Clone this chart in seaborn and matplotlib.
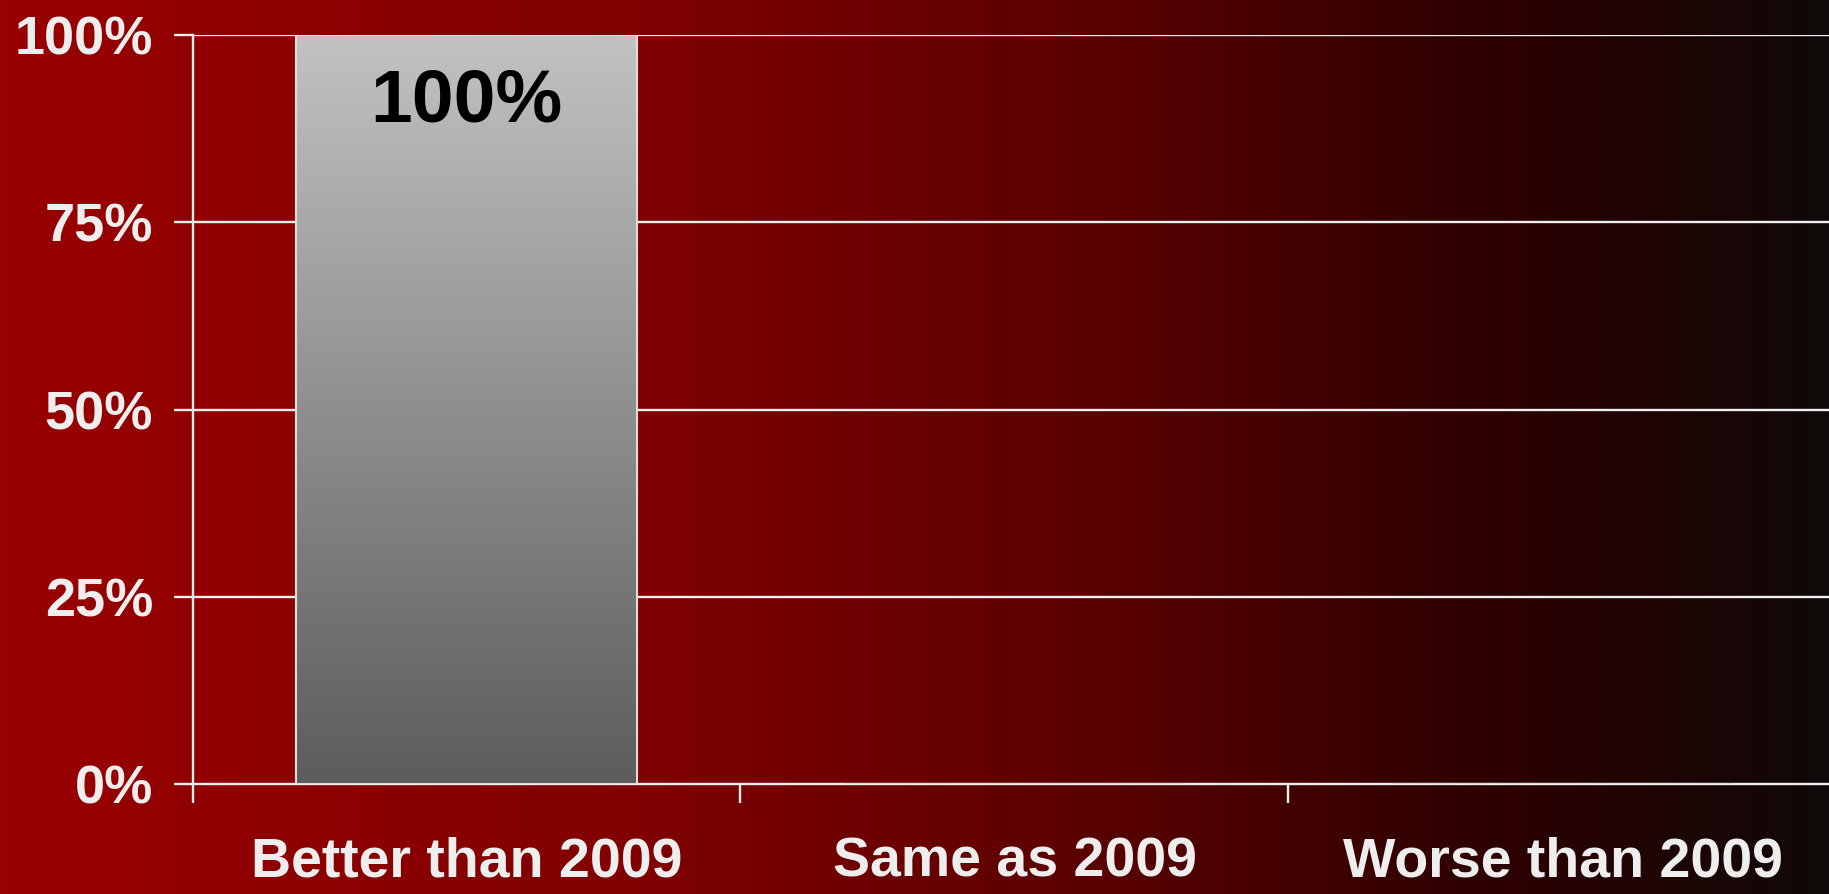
import numpy as np
import pandas as pd
import matplotlib
matplotlib.use("Agg")
import matplotlib.pyplot as plt
import seaborn as sns
from matplotlib.colors import LinearSegmentedColormap

# -------------------------------
# 1. Data
# -------------------------------
categories = ["Better than 2009", "Same as 2009", "Worse than 2009"]
values = [100, 0, 0]
value_labels = ["100%", "", ""]
y_ticks = [0, 25, 50, 75, 100]
y_tick_labels = ["0%", "25%", "50%", "75%", "100%"]

df = pd.DataFrame({"category": categories, "value": values})

# -------------------------------
# 2. Figure and background
# -------------------------------
sns.set_style("white")
plt.rcParams["font.family"] = ["Liberation Sans", "DejaVu Sans"]
plt.rcParams["font.weight"] = "bold"

fig = plt.figure(figsize=(18.29, 8.94), dpi=100)

bg_cmap = LinearSegmentedColormap.from_list(
    "bg",
    [(0.0, "#990000"), (0.35, "#800000"), (0.6, "#5a0000"),
     (0.8, "#300000"), (0.99, "#120808"), (1.0, "#0e0a0a")],
)
bg_ax = fig.add_axes([0, 0, 1, 1], zorder=0)
bg_ax.imshow(np.linspace(0, 1, 512).reshape(1, -1), cmap=bg_cmap,
             aspect="auto", extent=(0, 1, 0, 1))
bg_ax.set_axis_off()

# -------------------------------
# 3. Bar chart
# -------------------------------
ax = fig.add_axes([192.5 / 1829, 110 / 894, 3 * 548 / 1829, 749 / 894], zorder=1)
ax.patch.set_alpha(0)

sns.barplot(data=df, x="category", y="value", ax=ax, width=0.623,
            color="#999999", edgecolor="#dddddd", linewidth=1.5, zorder=3)

# gradient fill inside the bar
bar_cmap = LinearSegmentedColormap.from_list("bar", ["#5c5c5c", "#c2c2c2"])
for patch in ax.patches:
    if patch.get_height() <= 0:
        continue
    x0 = patch.get_x()
    x1 = x0 + patch.get_width()
    img = ax.imshow(np.linspace(0, 1, 256).reshape(-1, 1), cmap=bar_cmap,
                    origin="lower", aspect="auto",
                    extent=(x0, x1, 0, patch.get_height()), zorder=3.5)
    img.set_clip_path(patch)
    patch.set_facecolor("none")
    patch.set_zorder(4)

for i, lab in enumerate(value_labels):
    if lab:
        ax.text(i, 88.4, lab, ha="center", va="baseline", fontsize=54,
                fontweight="bold", color="black", zorder=5)

ax.set_xlim(-0.5, 2.5)
ax.set_ylim(0, 100)

# grid lines
for y in y_ticks[1:]:
    ax.axhline(y, color="#eeeeee", linewidth=1.7, zorder=2)

# axes styling
for side in ["top", "right"]:
    ax.spines[side].set_visible(False)
for side in ["left", "bottom"]:
    ax.spines[side].set_color("#eeeeee")
    ax.spines[side].set_linewidth(1.7)

ax.set_yticks(y_ticks)
ax.set_yticklabels(y_tick_labels)
ax.tick_params(axis="y", left=True, length=13.5, width=1.7, color="#eeeeee",
               pad=15, labelsize=39, labelcolor="#eeeeee")

ax.set_xticks(range(len(categories)))
ax.set_xticklabels(categories)
ax.tick_params(axis="x", which="major", bottom=True, length=0, pad=38,
               labelsize=40, labelcolor="#eeeeee")
ax.set_xticks([-0.5, 0.5, 1.5, 2.5], minor=True)
ax.tick_params(axis="x", which="minor", bottom=True, length=13.5, width=1.7,
               color="#eeeeee", direction="out")

for t in ax.get_xticklabels() + ax.get_yticklabels():
    t.set_fontweight("bold")

ax.set_xlabel("")
ax.set_ylabel("")

plt.savefig("out.png", dpi=100)
